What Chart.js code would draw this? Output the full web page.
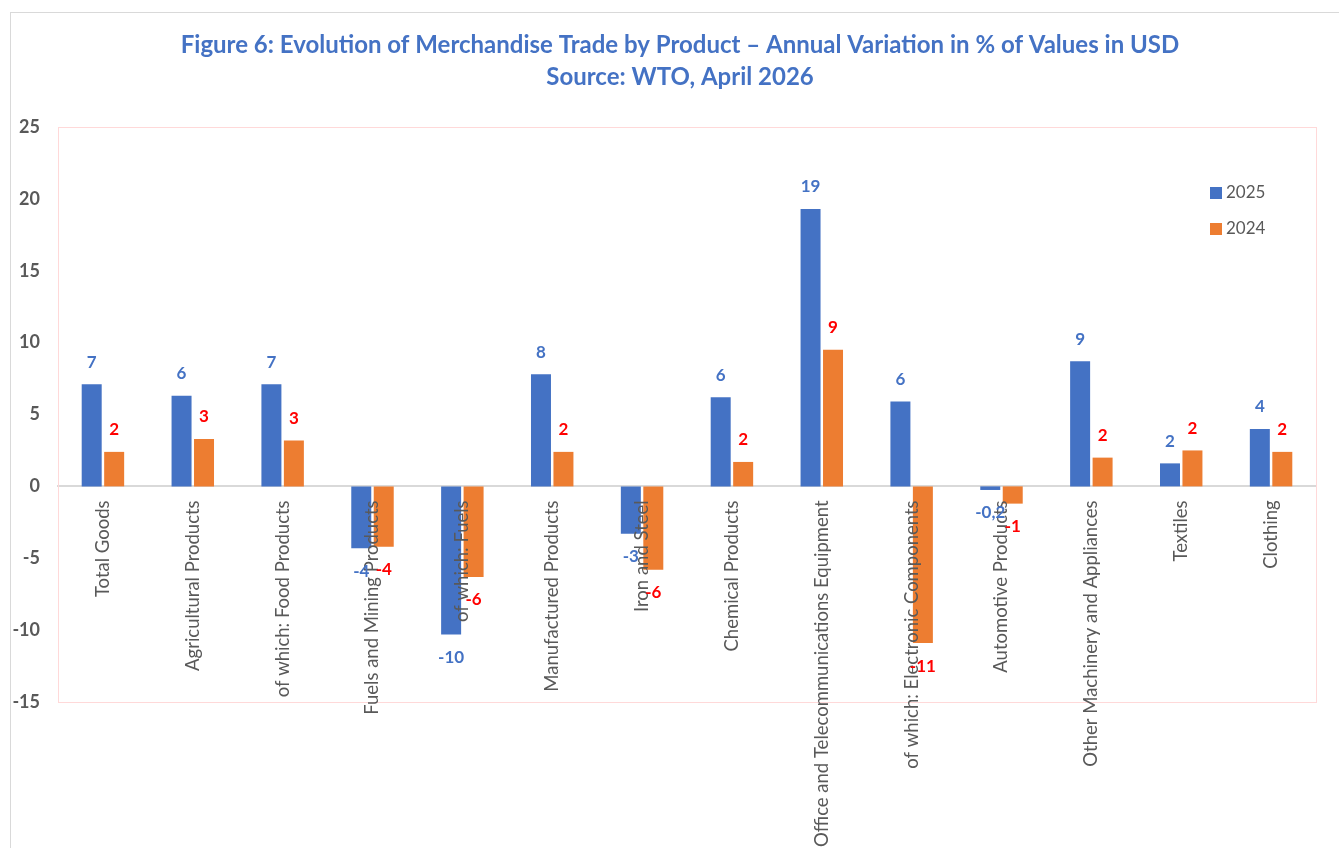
<!DOCTYPE html>
<html>
<head>
<meta charset="utf-8">
<script src="https://cdn.jsdelivr.net/npm/chart.js@4/dist/chart.umd.min.js"></script>
<style>
  html, body { margin: 0; padding: 0; background: #fff; overflow: hidden; }
  #frame { position: absolute; left: 10px; top: 12px; width: 1400px; height: 900px; border: 1.5px solid #d9d9d9; }
  #wrap { position: absolute; left: 0; top: 0; width: 1339px; height: 848px; }
</style>
</head>
<body>
<div id="frame"></div>
<div id="wrap"><canvas id="trade"></canvas></div>
<script>
const titleLines = [
    'Figure 6: Evolution of Merchandise Trade by Product \u2013 Annual Variation in % of Values in USD',
    'Source: WTO, April 2026'
];
const categories = [
    'Total Goods', 'Agricultural Products', 'of which: Food Products', 'Fuels and Mining Products',
    'of which: Fuels', 'Manufactured Products', 'Iron and Steel', 'Chemical Products',
    'Office and Telecommunications Equipment', 'of which: Electronic Components',
    'Automotive Products', 'Other Machinery and Appliances', 'Textiles', 'Clothing'
];
const values2025 = [7.1, 6.3, 7.1, -4.3, -10.3, 7.8, -3.3, 6.2, 19.3, 5.9, -0.25, 8.7, 1.6, 4.0];
const values2024 = [2.4, 3.3, 3.2, -4.2, -6.3, 2.4, -5.8, 1.7, 9.5, -10.9, -1.2, 2.0, 2.5, 2.4];
const labels2025 = ['7', '6', '7', '-4', '-10', '8', '-3', '6', '19', '6', '-0,2', '9', '2', '4'];
const labels2024 = ['2', '3', '3', '-4', '-6', '2', '-6', '2', '9', '-11', '-1', '2', '2', '2'];
const yMin = -15, yMax = 25, yStep = 5;

const blue = '#4472C4';
const orange = '#ED7D31';
const grey = '#595959';

// value labels above / below each bar, drawn on top of everything
const barLabels = {
    id: 'barLabels',
    afterDraw(chart) {
        const ctx = chart.ctx;
        ctx.save();
        ctx.font = 'bold 17px Lato';
        ctx.textAlign = 'center';
        ctx.textBaseline = 'middle';
        chart.data.datasets.forEach((ds, i) => {
            const meta = chart.getDatasetMeta(i);
            ctx.fillStyle = ds.labelColor;
            meta.data.forEach((bar, j) => {
                const v = ds.data[j];
                const y = v >= 0 ? bar.y - 22 : bar.y + 23;
                ctx.fillText(ds.valueLabels[j], bar.x, y);
            });
        });
        ctx.restore();
    }
};

// frame, title and legend
const decor = {
    id: 'decor',
    beforeDatasetsDraw(chart) {
        const a = chart.chartArea;
        const ctx = chart.ctx;
        ctx.save();
        ctx.strokeStyle = '#ffd9d9';
        ctx.lineWidth = 1;
        ctx.strokeRect(a.left + 0.5, a.top + 0.5, a.right - a.left, a.bottom - a.top);
        ctx.restore();
    },
    afterDraw(chart) {
        const a = chart.chartArea;
        const ctx = chart.ctx;
        ctx.save();
        ctx.fillStyle = blue;
        ctx.font = 'bold 24px Lato';
        ctx.textAlign = 'center';
        ctx.textBaseline = 'middle';
        titleLines.forEach((t, i) => ctx.fillText(t, 680, 45 + i * 32));

        ctx.font = '17px Lato';
        ctx.textAlign = 'left';
        chart.data.datasets.forEach((ds, i) => {
            const y = a.top + 66 + i * 36;
            ctx.fillStyle = ds.backgroundColor;
            ctx.fillRect(a.right - 106, y - 6, 12, 12);
            ctx.fillStyle = grey;
            ctx.fillText(ds.label, a.right - 90, y);
        });
        ctx.restore();
    }
};

document.addEventListener('DOMContentLoaded', (event) => {
    const ctx = document.getElementById('trade');

    new Chart(ctx, {
        type: 'bar',
        data: {
            labels: categories,
            datasets: [
                {
                    label: '2025',
                    data: values2025,
                    valueLabels: labels2025,
                    labelColor: blue,
                    backgroundColor: blue,
                    categoryPercentage: 0.5,
                    barPercentage: 0.89
                },
                {
                    label: '2024',
                    data: values2024,
                    valueLabels: labels2024,
                    labelColor: '#FF0000',
                    backgroundColor: orange,
                    categoryPercentage: 0.5,
                    barPercentage: 0.89
                }]
        },
        options: {
            responsive: true,
            maintainAspectRatio: false,
            animation: false,
            layout: {
                padding: { left: 10, right: 23, top: 127, bottom: 146 }
            },
            plugins: {
                legend: { display: false },
                title: { display: false },
                tooltip: { enabled: false }
            },
            scales: {
                x: {
                    position: { y: 0 },
                    grid: { display: false },
                    border: { display: true, color: '#d9d9d9', width: 2 },
                    ticks: {
                        z: 1,
                        autoSkip: false,
                        minRotation: 90,
                        maxRotation: 90,
                        padding: 6,
                        color: grey,
                        font: { family: 'Lato', size: 18.5 }
                    }
                },
                y: {
                    min: yMin,
                    max: yMax,
                    grid: { display: false },
                    border: { display: false },
                    afterFit: (scale) => { scale.width = 48; },
                    ticks: {
                        stepSize: yStep,
                        padding: 10,
                        color: grey,
                        font: { family: 'Lato', size: 18, weight: 'bold' }
                    }
                }
            }
        },
        plugins: [barLabels, decor]
    });
});
</script>
</body>
</html>
